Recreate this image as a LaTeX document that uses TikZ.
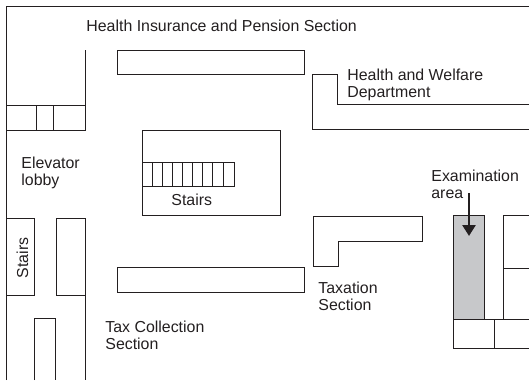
\documentclass[tikz,border=0pt]{standalone}
\usepackage{fontspec}
\setmainfont{Liberation Sans}
\usetikzlibrary{arrows.meta}
\definecolor{inkdark}{HTML}{231F20}
\definecolor{areagray}{HTML}{C7C8CA}
\tikzset{
  wall/.style={color=inkdark,line width=0.8pt},
  label/.style={text=inkdark,inner sep=0pt,anchor=north west,align=left,font=\fontsize{15.9}{17}\selectfont}
}
\begin{document}
\begin{tikzpicture}
  [x=1pt,y=-1pt,wall]
  \useasboundingbox (0,0) rectangle (529,380);

  \draw (6,380) -- (6,6) -- (529,6);
  \draw (85,50) -- (85,130) -- (6,130);
  \draw (6,105) -- (85,105);
  \draw (36.5,105) -- (36.5,130);
  \draw (53,105) -- (53,130);

  \foreach \xa/\ya/\xb/\yb in {117/50/304.5/74.5, 142/130/280.5/215, 142/162/234/186, 117/267/304.5/292, 6/218/34.5/295, 56.5/218/85/295}
    \draw (\xa,\ya) rectangle (\xb,\yb);
  \foreach \tread in {152,162,172,182,192,202,212,223}
    \draw (\tread,162) -- (\tread,186);

  \draw (529,104.5) -- (337.5,104.5) -- (337.5,74.5) -- (312.5,74.5) -- (312.5,129) -- (529,129);
  \draw (313.5,216) -- (422,216) -- (422,241) -- (338.5,241) -- (338.5,266) -- (313.5,266) -- cycle;

  \draw (85,295) -- (85,380);
  \draw (34.5,380) -- (34.5,318.5) -- (55.5,318.5) -- (55.5,380);

  \draw[fill=areagray] (453.5,215) rectangle (484,319);
  \draw (529,215.5) -- (503.5,215.5) -- (503.5,319);
  \draw (503.5,268) -- (529,268);
  \draw (453.5,319) -- (529,319);
  \draw (529,348.5) -- (453.5,348.5) -- (453.5,319);
  \draw (494.5,319) -- (494.5,348.5);

  \coordinate (arrowtop) at (469,193);
  \coordinate (arrowend) at (469,236);
  \draw[line width=2.6pt,-{Triangle[width=13pt,length=11pt]}] (arrowtop) -- (arrowend);

  \node[label] (insurance) at (86,20) {Health Insurance and Pension Section};
  \node[label] (welfare) at (347,69) {Health and Welfare\\Department};
  \node[label] (lobby) at (21,156.5) {Elevator\\lobby};
  \node[label] (stairsa) at (171,193.5) {Stairs};
  \node[label,rotate=90,anchor=base] (stairsb) at (28,258) {Stairs};
  \node[label] (collection) at (105,320.5) {Tax Collection\\Section};
  \node[label] (taxation) at (318,281.5) {Taxation\\Section};
  \node[label] (exam) at (431,169.5) {Examination\\area};
\end{tikzpicture}
\end{document}
